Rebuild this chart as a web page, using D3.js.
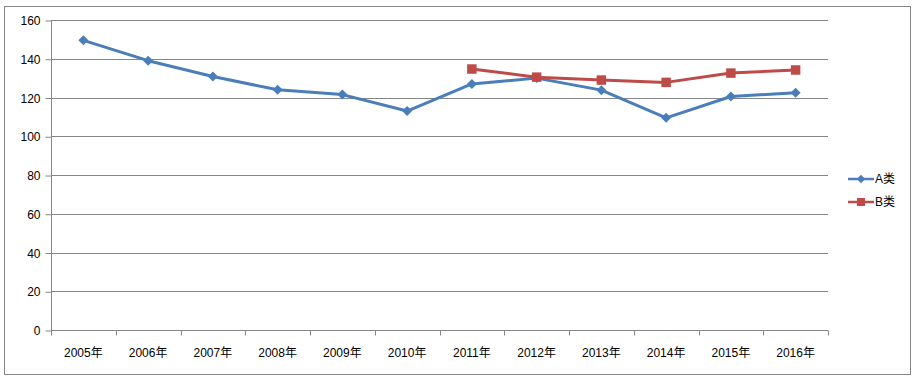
<!DOCTYPE html>
<html>
<head>
<meta charset="utf-8">
<script src="https://cdn.jsdelivr.net/npm/d3@7"></script>
<style>
  body { margin: 0; background: #fff; }
  text { font-family: "Liberation Sans", Arial, "Noto Sans CJK SC", sans-serif; fill: #000; }
</style>
</head>
<body>
<svg id="chart" width="914" height="377" viewBox="0 0 914 377"></svg>
<script>
// data
const years = ["2005年", "2006年", "2007年", "2008年", "2009年", "2010年",
               "2011年", "2012年", "2013年", "2014年", "2015年", "2016年"]
const seriesA = [149.5, 139, 130.8, 124, 121.5, 113, 127, 130, 123.8, 109.5, 120.5, 122.5]
const seriesB = [null, null, null, null, null, null, 134.7, 130.5, 129, 127.8, 132.6, 134.2]
const yTicks = [0, 20, 40, 60, 80, 100, 120, 140, 160]

const svg = d3.select("#chart")
const margin = {left: 51, right: 828, top: 20, bottom: 330}

// outer frame
svg.append("rect")
    .attr("x", 4.5).attr("y", 6.5)
    .attr("width", 906).attr("height", 368)
    .attr("fill", "#fff")
    .attr("stroke", "#868686")

const x = d3.scaleBand()
    .domain(years)
    .range([margin.left, margin.right])

const y = d3.scaleLinear()
    .domain([0, 160])
    .range([margin.bottom, margin.top])

// gridlines
svg.append("g")
    .selectAll("line")
    .data(yTicks.filter(d => d > 0))
    .enter()
    .append("line")
    .attr("x1", margin.left).attr("x2", margin.right)
    .attr("y1", d => Math.round(y(d)) + 0.5)
    .attr("y2", d => Math.round(y(d)) + 0.5)
    .attr("stroke", "#868686")

// y axis
const yAxis = svg.append("g")
    .attr("transform", `translate(${margin.left + 0.5},0.5)`)
    .call(d3.axisLeft(y).tickValues(yTicks).tickSize(6).tickPadding(5))
yAxis.selectAll("path, line").attr("stroke", "#868686")
yAxis.selectAll("text").attr("font-size", 12).attr("dy", "0.35em")
yAxis.select(".domain").attr("d", `M0,${margin.top}V${margin.bottom}`)

// x axis, ticks at band boundaries
const xAxis = svg.append("g")
    .attr("transform", `translate(0,${margin.bottom + 0.5})`)
xAxis.append("line")
    .attr("x1", margin.left).attr("x2", margin.right)
    .attr("stroke", "#868686")
xAxis.selectAll(".tk")
    .data(years.concat(["end"]))
    .enter()
    .append("line")
    .attr("x1", (d, i) => Math.round(margin.left + i * x.bandwidth()) + 0.5)
    .attr("x2", (d, i) => Math.round(margin.left + i * x.bandwidth()) + 0.5)
    .attr("y1", 0).attr("y2", 5)
    .attr("stroke", "#868686")
xAxis.selectAll("text")
    .data(years)
    .enter()
    .append("text")
    .attr("x", d => x(d) + x.bandwidth() / 2)
    .attr("y", 26)
    .attr("text-anchor", "middle")
    .attr("font-size", 12)
    .text(d => d)

const cx = d => x(d) + x.bandwidth() / 2

// diamond = square turned 45 degrees
function marker(shape, size) {
    return d3.symbol().type(d3.symbolSquare).size(size)()
}

function drawSeries(values, color, rot, size) {
    const pts = years.map((yr, i) => ({yr, v: values[i]})).filter(d => d.v != null)
    svg.append("path")
        .datum(pts)
        .attr("fill", "none")
        .attr("stroke", color)
        .attr("stroke-width", 3)
        .attr("stroke-linejoin", "round")
        .attr("d", d3.line().x(d => cx(d.yr)).y(d => y(d.v)))
    svg.append("g")
        .selectAll("path")
        .data(pts)
        .enter()
        .append("path")
        .attr("transform", d => `translate(${cx(d.yr)},${y(d.v)}) rotate(${rot})`)
        .attr("d", marker(null, size))
        .attr("fill", color)
}

drawSeries(seriesA, "#4A7EBB", 45, 50)
drawSeries(seriesB, "#BE4B48", 0, 90)

// legend
const legend = [
    {name: "A类", color: "#4A7EBB", rot: 45, size: 36, y: 179},
    {name: "B类", color: "#BE4B48", rot: 0, size: 64, y: 202}
]
const lg = svg.append("g")
    .selectAll("g")
    .data(legend)
    .enter()
    .append("g")
    .attr("transform", d => `translate(848,${d.y})`)
lg.append("line")
    .attr("x1", 0).attr("x2", 26)
    .attr("stroke", d => d.color)
    .attr("stroke-width", 2.5)
lg.append("path")
    .attr("transform", d => `translate(13,0) rotate(${d.rot})`)
    .attr("d", d => marker(null, d.size))
    .attr("fill", d => d.color)
lg.append("text")
    .attr("x", 27)
    .attr("dy", "0.35em")
    .attr("font-size", 12)
    .text(d => d.name)
</script>
</body>
</html>
